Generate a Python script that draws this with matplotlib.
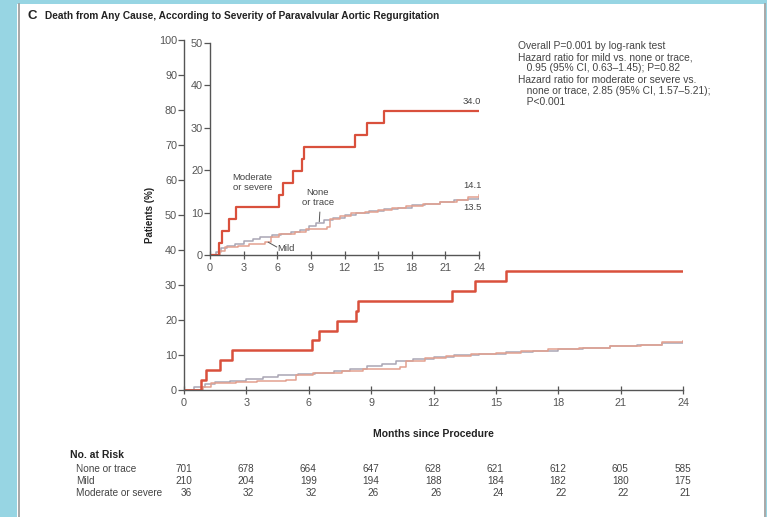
import matplotlib.pyplot as plt
from matplotlib.patches import Rectangle
from matplotlib.transforms import blended_transform_factory, offset_copy

# Kaplan-Meier style step data (months, cumulative death %)
mod_t = [0, 0.82, 1.08, 1.73, 2.33, 6.14, 6.5, 7.38, 8.25, 8.37, 12.9, 14.0, 15.5, 24]
mod_y = [0, 2.9, 5.7, 8.5, 11.4, 14.2, 17.0, 19.8, 22.6, 25.4, 28.2, 31.1, 34.0, 34.0]

none_t = [0, 0.5, 1.0, 1.5, 2.2, 3.0, 3.8, 4.5, 5.5, 6.3, 7.2, 8.0, 8.8, 9.5, 10.2,
          11.0, 12.0, 13.0, 14.2, 15.5, 16.8, 18.0, 19.2, 20.5, 21.8, 23.0, 24]
none_y = [0, 0.8, 1.6, 2.2, 2.7, 3.2, 3.7, 4.2, 4.6, 5.0, 5.4, 6.0, 6.8, 7.5, 8.2,
          8.8, 9.4, 9.9, 10.3, 10.8, 11.2, 11.7, 12.1, 12.5, 12.9, 13.3, 13.5]

mild_t = [0, 0.9, 1.3, 2.5, 3.5, 4.9, 5.4, 6.2, 7.6, 8.6, 10.4, 10.7, 11.6, 12.6,
          13.8, 15.0, 16.2, 17.5, 19.0, 20.5, 22.0, 23.0, 24]
mild_y = [0, 0.9, 1.9, 2.2, 2.6, 3.0, 4.3, 5.0, 5.5, 6.1, 6.6, 8.4, 9.1, 9.8,
          10.2, 10.6, 11.1, 11.6, 12.1, 12.5, 12.9, 13.7, 14.1]

risk_months = [0, 3, 6, 9, 12, 15, 18, 21, 24]
risk_labels = ['None or trace', 'Mild', 'Moderate or severe']
risk_none = [701, 678, 664, 647, 628, 621, 612, 605, 585]
risk_mild = [210, 204, 199, 194, 188, 184, 182, 180, 175]
risk_mod = [36, 32, 32, 26, 26, 24, 22, 22, 21]

stats_lines = ['Overall P=0.001 by log-rank test',
               'Hazard ratio for mild vs. none or trace,',
               '   0.95 (95% CI, 0.63\u20131.45); P=0.82',
               'Hazard ratio for moderate or severe vs.',
               '   none or trace, 2.85 (95% CI, 1.57\u20135.21);',
               '   P<0.001']

plt.rcParams['font.family'] = ['Liberation Sans', 'DejaVu Sans']
c_mod = '#d9503c'
c_none = '#a9a6b4'
c_mild = '#e3a08f'

W, H = 767, 517
fig = plt.figure(figsize=(W / 100, H / 100), dpi=100)
fig.patch.set_facecolor('#97d5e3')

def fx(px):
    return px / W

def fy(py):
    return 1 - py / H

fig.patches.append(Rectangle((fx(17), 0), fx(749), fy(4), transform=fig.transFigure,
                             facecolor='white', edgecolor='none', zorder=-5))
for xp in (18.5, 764.5):
    fig.add_artist(plt.Line2D([fx(xp), fx(xp)], [0, fy(4)], color='#9a9a9a', lw=1.2, zorder=-4))

fig.text(fx(28), fy(16), 'C', fontsize=9.5, fontweight='bold', color='#222222', va='center')
fig.text(fx(45), fy(16), 'Death from Any Cause, According to Severity of Paravalvular Aortic Regurgitation',
         fontsize=7.3, fontweight='bold', color='#222222', va='center')

def style(a, ymax, ystep):
    a.set_facecolor('none')
    a.set_xlim(0, 24)
    a.set_ylim(0, ymax)
    a.set_xticks(risk_months)
    a.set_yticks(range(0, ymax + 1, ystep))
    for s in ('top', 'right'):
        a.spines[s].set_visible(False)
    for s in ('left', 'bottom'):
        a.spines[s].set_color('#555555')
        a.spines[s].set_linewidth(1.0)
    a.tick_params(axis='y', length=4, width=0.9, color='#555555', labelsize=7.8,
                  labelcolor='#555555', pad=1)
    a.tick_params(axis='x', direction='inout', length=6, width=0.9, color='#555555', labelsize=7.8,
                  labelcolor='#555555', pad=3)

# main axes
ax = fig.add_axes([fx(184), fy(390), fx(683) - fx(184), fy(40) - fy(390)])
ax.step(none_t, none_y, where='post', color=c_none, lw=1.1)
ax.step(mild_t, mild_y, where='post', color=c_mild, lw=1.1)
ax.step(mod_t, mod_y, where='post', color=c_mod, lw=1.8)
style(ax, 100, 10)
ax.set_xlabel('Months since Procedure', fontsize=7.5, fontweight='bold', color='#222222', labelpad=15)
ax.set_ylabel('Patients (%)', fontsize=7, fontweight='bold', color='#222222')
ax.yaxis.set_label_coords(-0.058, 0.5)

# inset
ins = fig.add_axes([fx(210), fy(255), fx(479) - fx(210), fy(43) - fy(255)])
ins.step(none_t, none_y, where='post', color=c_none, lw=1.1)
ins.step(mild_t, mild_y, where='post', color=c_mild, lw=1.1)
ins.step(mod_t, mod_y, where='post', color=c_mod, lw=1.6)
style(ins, 50, 10)

fs_in = 6.8
ins.text(3.8, 17.0, 'Moderate\nor severe', fontsize=fs_in, color='#444444', ha='center', va='center',
         linespacing=1.15)
ins.text(9.6, 13.6, 'None\nor trace', fontsize=fs_in, color='#444444', ha='center', va='center',
         linespacing=1.15)
ins.plot([9.8, 9.75], [10.1, 7.9], color='#555555', lw=0.7)
ins.text(6.0, 1.6, 'Mild', fontsize=fs_in, color='#444444', ha='left', va='center')
ins.plot([5.2, 5.95], [3.0, 1.9], color='#555555', lw=0.7)
ins.text(24.2, mod_y[-1] + 2.3, f'{mod_y[-1]:.1f}', fontsize=fs_in, color='#444444', ha='right', va='center')
ins.text(24.2, mild_y[-1] + 2.4, f'{mild_y[-1]:.1f}', fontsize=fs_in, color='#444444', ha='right', va='center')
ins.text(24.2, none_y[-1] - 2.2, f'{none_y[-1]:.1f}', fontsize=fs_in, color='#444444', ha='right', va='center')

# statistics block
for i, line in enumerate(stats_lines):
    fig.text(fx(518), fy(46 + i * 11.2), line, fontsize=7.4, color='#444444', va='center')

# number at risk table
fig.text(fx(70), fy(455), 'No. at Risk', fontsize=7.5, fontweight='bold', color='#222222', va='center')
tr = offset_copy(blended_transform_factory(ax.transData, fig.transFigure), fig=fig, x=8, y=0, units='dots')
for r, (lab, vals) in enumerate(zip(risk_labels, [risk_none, risk_mild, risk_mod])):
    yy = fy(469.5 + r * 11.8)
    fig.text(fx(76), yy, lab, fontsize=7.2, color='#444444', va='center')
    for m, v in zip(risk_months, vals):
        fig.text(m, yy, str(v), fontsize=7.2, color='#444444', va='center', ha='right', transform=tr)

fig.savefig('out.png', dpi=100, facecolor=fig.get_facecolor())
